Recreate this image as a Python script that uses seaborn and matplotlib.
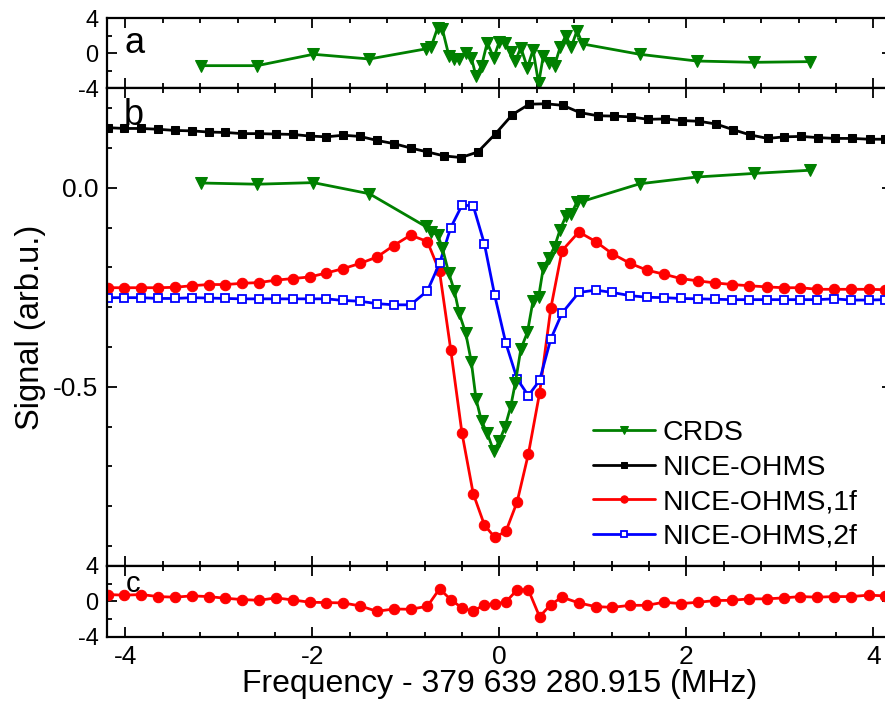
import numpy as np
import seaborn as sns
import matplotlib.pyplot as plt
from matplotlib.ticker import MultipleLocator, FormatStrFormatter

# CRDS data (panel b) and fit residuals (panel a)
x_crds = [-3.19, -2.59, -1.99, -1.39,
          -0.79, -0.73, -0.66, -0.61, -0.54, -0.48, -0.43, -0.36, -0.30, -0.25,
          -0.19, -0.13, -0.06, 0.00, 0.06, 0.12, 0.17, 0.23, 0.30, 0.36,
          0.42, 0.47, 0.53, 0.59, 0.65, 0.71, 0.77, 0.83, 0.89,
          1.50, 2.11, 2.72, 3.32]
crds_signal = [0.012, 0.009, 0.013, -0.015,
               -0.097, -0.111, -0.118, -0.151, -0.215, -0.260, -0.315, -0.365, -0.437, -0.530,
               -0.587, -0.616, -0.662, -0.636, -0.601, -0.551, -0.491, -0.405, -0.363, -0.284,
               -0.274, -0.201, -0.176, -0.148, -0.105, -0.072, -0.065, -0.036, -0.034,
               0.010, 0.027, 0.036, 0.044]
crds_resid = [-1.41, -1.41, -0.11, -0.65,
              0.50, 0.76, 2.93, 2.78, -0.27, -0.69, -0.69, 0.08, -0.50, -2.59,
              -1.41, 1.22, -0.50, 1.33, 1.22, 0.19, -0.88, 0.65, -1.64, 0.38,
              -3.43, -0.30, -1.14, -1.41, 0.69, 1.98, 0.76, 2.59, 1.07,
              -0.11, -0.88, -1.03, -0.95]

# NICE-OHMS (dispersion) data
x_nice = [-4.19, -4.01, -3.83, -3.65, -3.47, -3.29, -3.11, -2.93, -2.75, -2.57,
          -2.39, -2.21, -2.03, -1.85, -1.67, -1.49, -1.31, -1.13, -0.95, -0.77,
          -0.59, -0.41, -0.23, -0.04, 0.14, 0.32, 0.50, 0.68, 0.86, 1.05,
          1.23, 1.41, 1.59, 1.77, 1.95, 2.14, 2.32, 2.50, 2.68, 2.87,
          3.05, 3.23, 3.41, 3.59, 3.77, 3.96, 4.13]
nice_signal = [0.151, 0.149, 0.149, 0.147, 0.144, 0.143, 0.140, 0.139, 0.136, 0.136,
               0.135, 0.134, 0.130, 0.128, 0.132, 0.129, 0.119, 0.111, 0.100, 0.090,
               0.080, 0.076, 0.090, 0.136, 0.184, 0.210, 0.211, 0.207, 0.189, 0.181,
               0.180, 0.178, 0.172, 0.173, 0.169, 0.167, 0.160, 0.146, 0.133, 0.124,
               0.128, 0.129, 0.126, 0.124, 0.124, 0.122, 0.122]

# NICE-OHMS 1f / 2f data and 1f residuals (panel c)
x_ohms = [-4.19, -4.01, -3.83, -3.65, -3.47, -3.29, -3.11, -2.93, -2.75, -2.57,
          -2.39, -2.21, -2.03, -1.85, -1.67, -1.49, -1.31, -1.13, -0.95, -0.77,
          -0.64, -0.52, -0.40, -0.28, -0.16, -0.05, 0.07, 0.19, 0.31, 0.43, 0.55, 0.67,
          0.85, 1.03, 1.21, 1.40, 1.58, 1.76, 1.94, 2.13, 2.31, 2.49,
          2.67, 2.86, 3.04, 3.22, 3.40, 3.58, 3.76, 3.95, 4.13]
ohms_1f = [-0.251, -0.251, -0.251, -0.251, -0.250, -0.246, -0.243, -0.243, -0.240, -0.238,
           -0.232, -0.228, -0.224, -0.214, -0.203, -0.190, -0.174, -0.145, -0.119, -0.135,
           -0.210, -0.407, -0.616, -0.768, -0.847, -0.878, -0.863, -0.789, -0.669, -0.516, -0.303, -0.158,
           -0.111, -0.135, -0.166, -0.190, -0.207, -0.217, -0.228, -0.234, -0.239, -0.243,
           -0.246, -0.249, -0.251, -0.251, -0.255, -0.255, -0.255, -0.255, -0.256]
ohms_2f = [-0.276, -0.276, -0.276, -0.278, -0.278, -0.276, -0.277, -0.278, -0.279, -0.279,
           -0.279, -0.279, -0.279, -0.279, -0.283, -0.285, -0.291, -0.294, -0.294, -0.259,
           -0.190, -0.100, -0.044, -0.045, -0.141, -0.270, -0.391, -0.480, -0.522, -0.484, -0.380, -0.315,
           -0.263, -0.257, -0.263, -0.271, -0.275, -0.276, -0.278, -0.279, -0.280, -0.281,
           -0.281, -0.281, -0.281, -0.281, -0.281, -0.279, -0.282, -0.282, -0.281]
ohms_1f_resid = [0.76, 0.69, 0.76, 0.53, 0.46, 0.61, 0.53, 0.34, 0.19, 0.11,
                 0.38, 0.15, -0.11, -0.15, -0.19, -0.53, -1.14, -0.88, -0.91, -0.57,
                 1.41, 0.19, -0.76, -1.14, -0.38, -0.30, -0.08, 1.30, 1.30, -1.75, -0.38, 0.46,
                 -0.19, -0.61, -0.69, -0.46, -0.46, -0.11, -0.27, -0.11, 0.08, 0.11,
                 0.27, 0.27, 0.38, 0.53, 0.46, 0.53, 0.53, 0.69, 0.61]

green = '#008000'

sns.set_style('ticks')
plt.rcParams['font.family'] = ['Liberation Sans', 'DejaVu Sans']
plt.rcParams['axes.unicode_minus'] = False
plt.rcParams['axes.linewidth'] = 1.6
plt.rcParams['axes.edgecolor'] = 'black'
plt.rcParams['text.color'] = 'black'
plt.rcParams['axes.labelcolor'] = 'black'
plt.rcParams['xtick.color'] = 'black'
plt.rcParams['ytick.color'] = 'black'

fig = plt.figure(figsize=(8.85, 7.01), dpi=100)
ax_a = fig.add_axes([0.1206, 0.874, 0.8873, 0.0999])
ax_b = fig.add_axes([0.1206, 0.1926, 0.8873, 0.6815])
ax_c = fig.add_axes([0.1206, 0.0920, 0.8873, 0.1006])

# panel a: CRDS residuals
sns.lineplot(x=x_crds, y=crds_resid, ax=ax_a, color=green, lw=2,
             marker='v', markersize=9, markeredgecolor=green)

# panel b: spectra
sns.lineplot(x=x_crds, y=crds_signal, ax=ax_b, color=green, lw=2,
             marker='v', markersize=9, markeredgecolor=green, label='CRDS', zorder=5)
sns.lineplot(x=x_nice, y=nice_signal, ax=ax_b, color='black', lw=2,
             marker='s', markersize=6, markeredgecolor='black', label='NICE-OHMS')
sns.lineplot(x=x_ohms, y=ohms_1f, ax=ax_b, color='red', lw=2,
             marker='o', markersize=7.5, markeredgecolor='red', label='NICE-OHMS,1f')
sns.lineplot(x=x_ohms, y=ohms_2f, ax=ax_b, color='blue', lw=2,
             marker='s', markersize=5.5, markerfacecolor='white', markeredgecolor='blue',
             markeredgewidth=1.3, label='NICE-OHMS,2f')

# panel c: 1f residuals
sns.lineplot(x=x_ohms, y=ohms_1f_resid, ax=ax_c, color='red', lw=2,
             marker='o', markersize=7.5, markeredgecolor='red')

for ax in (ax_a, ax_b, ax_c):
    ax.set_xlim(-4.2, 4.2)
    ax.xaxis.set_major_locator(MultipleLocator(2))
    ax.xaxis.set_minor_locator(MultipleLocator(0.4))
    ax.tick_params(which='both', direction='in', top=True, right=True,
                   width=1.3, labelsize=19, pad=6)
    ax.tick_params(which='major', length=7)
    ax.tick_params(which='minor', length=3.6)
    ax.set_xlabel('')
    ax.set_ylabel('')

for ax in (ax_a, ax_c):
    ax.set_ylim(-4, 4)
    ax.set_yticks([-4, 0, 4])
    ax.yaxis.set_minor_locator(MultipleLocator(2))
    ax.tick_params(axis='y', labelsize=17)

ax_a.tick_params(labelbottom=False)
ax_b.tick_params(labelbottom=False)
ax_b.set_ylim(-0.95, 0.25)
ax_b.yaxis.set_major_locator(MultipleLocator(0.5))
ax_b.yaxis.set_minor_locator(MultipleLocator(0.1))
ax_b.yaxis.set_major_formatter(FormatStrFormatter('%.1f'))

ax_b.set_ylabel('Signal (arb.u.)', fontsize=23.5, labelpad=5)
ax_c.set_xlabel('Frequency - 379 639 280.915 (MHz)', fontsize=23, labelpad=0)

ax_a.text(0.022, 0.5, 'a', transform=ax_a.transAxes, fontsize=26, va='baseline')
ax_b.text(0.022, 0.923, 'b', transform=ax_b.transAxes, fontsize=26, va='baseline')
ax_c.text(0.024, 0.63, 'c', transform=ax_c.transAxes, fontsize=21, va='baseline')

ax_b.legend(loc='upper left', bbox_to_anchor=(0.619, 0.305), frameon=False,
            fontsize=20.5, handlelength=2.2, handletextpad=0.25, labelspacing=0.3,
            borderaxespad=0, borderpad=0, markerscale=0.7)

fig.savefig('out.png', dpi=100)
